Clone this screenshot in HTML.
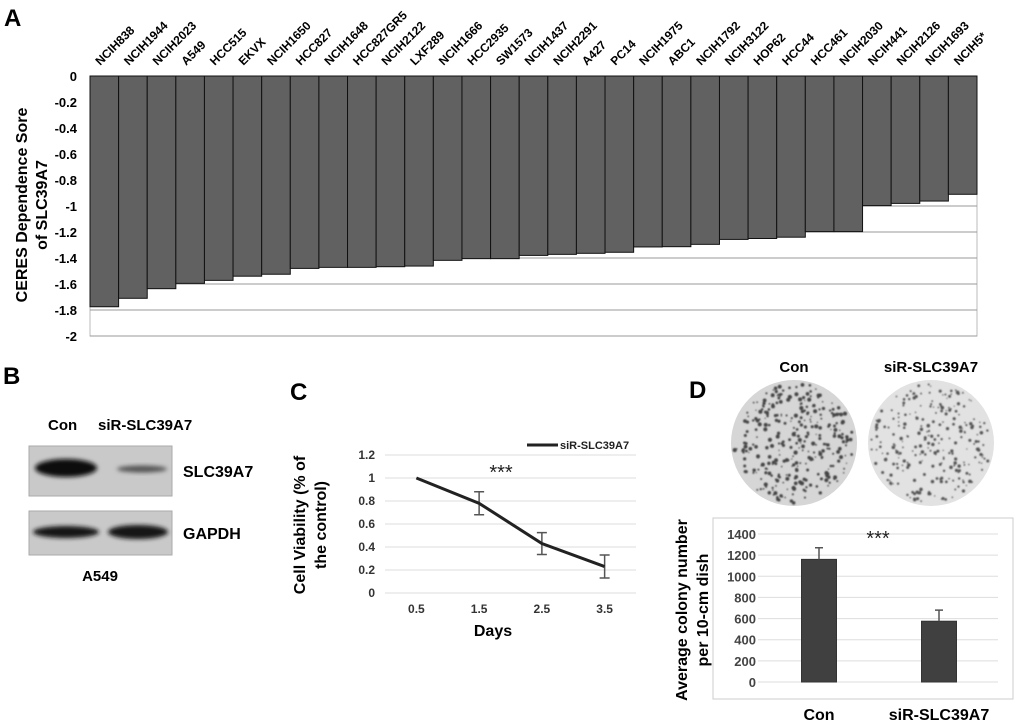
<!DOCTYPE html>
<html><head><meta charset="utf-8"><style>
body{margin:0;background:#fff;}
svg{display:block;font-family:"Liberation Sans",Arial,sans-serif;}
</style></head><body>
<svg id="fig" width="1020" height="724" viewBox="0 0 1020 724">
<defs>
<filter id="blur1" x="-20%" y="-50%" width="140%" height="200%"><feGaussianBlur stdDeviation="2"/></filter>
<filter id="blur2"><feGaussianBlur stdDeviation="0.7"/></filter>
</defs>
<g id="panelA">
<text x="4" y="26" font-size="24" font-weight="bold">A</text>
<g transform="translate(27,205) rotate(-90)">
<text x="0" y="0" text-anchor="middle" font-size="16" font-weight="bold">CERES Dependence Sore</text>
<text x="0" y="20" text-anchor="middle" font-size="16" font-weight="bold">of SLC39A7</text>
</g>
<rect x="90" y="76" width="887" height="260" fill="#fff" stroke="#bbb"/>
<g id="gridA"></g><g id="barsA"></g><g id="ticksA"></g><g id="labelsA"></g>
</g>
<g id="panelB">
<text x="3" y="384" font-size="24" font-weight="bold">B</text>
<text x="48" y="430" font-size="15" font-weight="bold">Con</text>
<text x="98" y="430" font-size="15" font-weight="bold">siR-SLC39A7</text>
<rect x="29" y="446" width="143" height="50" fill="#c9c9c9" stroke="#aaa"/>
<ellipse cx="66" cy="468" rx="31" ry="9" fill="#111" filter="url(#blur1)"/>
<ellipse cx="142" cy="469" rx="25" ry="3.5" fill="#555" filter="url(#blur1)"/>
<rect x="29" y="511" width="143" height="44" fill="#c9c9c9" stroke="#aaa"/>
<ellipse cx="66" cy="532" rx="33" ry="6" fill="#151515" filter="url(#blur1)"/>
<ellipse cx="138" cy="532" rx="30" ry="7" fill="#151515" filter="url(#blur1)"/>
<text x="183" y="477" font-size="16" font-weight="bold">SLC39A7</text>
<text x="183" y="539" font-size="16" font-weight="bold">GAPDH</text>
<text x="100" y="581" font-size="15" font-weight="bold" text-anchor="middle">A549</text>
</g>
<g id="panelC">
<text x="290" y="400" font-size="24" font-weight="bold">C</text>
<g transform="translate(305,525) rotate(-90)">
<text x="0" y="0" text-anchor="middle" font-size="16" font-weight="bold">Cell Viability (% of</text>
<text x="0" y="21" text-anchor="middle" font-size="16" font-weight="bold">the control)</text>
</g>
<g id="gridC"></g><g id="lineC"></g>
<line x1="527" y1="445" x2="558" y2="445" stroke="#222" stroke-width="3"/>
<text x="560" y="449" font-size="11" font-weight="bold" fill="#222">siR-SLC39A7</text>
<text x="501" y="479" font-size="20" text-anchor="middle" fill="#222">***</text>
<text x="493" y="636" font-size="16" font-weight="bold" text-anchor="middle">Days</text>
</g>
<g id="panelD">
<text x="689" y="398" font-size="24" font-weight="bold">D</text>
<text x="794" y="372" font-size="15" font-weight="bold" text-anchor="middle">Con</text>
<text x="931" y="372" font-size="15" font-weight="bold" text-anchor="middle">siR-SLC39A7</text>
<circle cx="794" cy="443" r="63" fill="#d6d6d6"/>
<circle cx="931" cy="443" r="63" fill="#e2e2e2"/>
<g id="dots" filter="url(#blur2)"></g>
<rect x="713" y="518" width="300" height="181" fill="#fff" stroke="#ccc"/>
<g transform="translate(687,610) rotate(-90)">
<text x="0" y="0" text-anchor="middle" font-size="16" font-weight="bold">Average colony number</text>
<text x="0" y="21" text-anchor="middle" font-size="16" font-weight="bold">per 10-cm dish</text>
</g>
<g id="gridD"></g><g id="barsD"></g>
<text x="878" y="545" font-size="20" text-anchor="middle" fill="#222">***</text>
</g>
</svg>
<script>
const NS='http://www.w3.org/2000/svg';
function mk(tag,attrs,parent,txt){const e=document.createElementNS(NS,tag);for(const k in attrs)e.setAttribute(k,attrs[k]);if(txt!==undefined)e.textContent=txt;parent.appendChild(e);return e;}
// Panel A data
const cellLines=['NCIH838','NCIH1944','NCIH2023','A549','HCC515','EKVX','NCIH1650','HCC827','NCIH1648','HCC827GR5','NCIH2122','LXF289','NCIH1666','HCC2935','SW1573','NCIH1437','NCIH2291','A427','PC14','NCIH1975','ABC1','NCIH1792','NCIH3122','HOP62','HCC44','HCC461','NCIH2030','NCIH441','NCIH2126','NCIH1693','NCIH5*'];
const ceresScores=[-1.775,-1.71,-1.636,-1.595,-1.572,-1.54,-1.525,-1.48,-1.472,-1.472,-1.467,-1.462,-1.418,-1.405,-1.405,-1.38,-1.372,-1.364,-1.356,-1.315,-1.313,-1.295,-1.257,-1.25,-1.24,-1.197,-1.197,-0.997,-0.98,-0.962,-0.91];
const ticksA=[0,-0.2,-0.4,-0.6,-0.8,-1,-1.2,-1.4,-1.6,-1.8,-2];
// Panel C data
const days=['0.5','1.5','2.5','3.5'];
const viability=[1,0.78,0.43,0.23];
const viabilityErr=[0,0.1,0.095,0.1];
const ticksC=[0,0.2,0.4,0.6,0.8,1,1.2];
// Panel D data
const groups=['Con','siR-SLC39A7'];
const colonies=[1160,575];
const coloniesErr=[110,105];
const ticksD=[0,200,400,600,800,1000,1200,1400];

// Panel A
(function(){
 const x0=90,w=887,yTop=76,h=260,bw=w/cellLines.length;
 const y=v=>yTop+(-v/2)*h;
 const g=document.getElementById('gridA'),b=document.getElementById('barsA'),t=document.getElementById('ticksA'),l=document.getElementById('labelsA');
 ticksA.forEach(v=>{
  const ln=mk('line',{x1:x0,x2:x0+w,y1:y(v),y2:y(v),stroke:'#999','stroke-width':1},g);
  
  
  const tx=mk('text',{x:77,y:y(v)+5,'text-anchor':'end','font-size':13,'font-weight':'bold'},t,String(v));
  
  
 });
 cellLines.forEach((c,i)=>{
  const r=mk('rect',{x:x0+i*bw,y:y(0),width:bw,height:y(ceresScores[i])-y(0),fill:'#616161',stroke:'#111','stroke-width':1},b);
  
  
  const cx=x0+(i+0.5)*bw;
  const tx=mk('text',{x:cx-4,y:66,'font-size':12,'font-weight':'bold',transform:`rotate(-45 ${cx-4} 66)`},l,c);
  
  
 });
})();
// Panel C
(function(){
 const x0=385,w=251,y0=593,h=138;
 const y=v=>y0-v/1.2*h;
 const x=i=>x0+(i+0.5)*w/days.length;
 const g=document.getElementById('gridC'),L=document.getElementById('lineC');
 ticksC.forEach(v=>{
  const ln=mk('line',{x1:x0,x2:x0+w,y1:y(v),y2:y(v),stroke:'#ddd'},g);
  
  
  const tx=mk('text',{x:375,y:y(v)+4,'text-anchor':'end','font-size':12,'font-weight':'bold',fill:'#333'},g,String(v));
  
  
 });
 days.forEach((d,i)=>{
  const tx=mk('text',{x:x(i),y:613,'text-anchor':'middle','font-size':12,'font-weight':'bold',fill:'#333'},g,d);
  
  
  if(viabilityErr[i]>0){
   const e=mk('path',{d:`M${x(i)} ${y(viability[i]+viabilityErr[i])}V${y(viability[i]-viabilityErr[i])}M${x(i)-5} ${y(viability[i]+viabilityErr[i])}h10M${x(i)-5} ${y(viability[i]-viabilityErr[i])}h10`,stroke:'#555','stroke-width':1.5,fill:'none'},L);
   
   
  }
 });
 const p=mk('polyline',{points:viability.map((v,i)=>x(i)+','+y(v)).join(' '),fill:'none',stroke:'#222','stroke-width':3},L);
 
 
})();
// Panel D
(function(){
 const x0=758,w=240,y0=682,h=148;
 const y=v=>y0-v/1400*h;
 const g=document.getElementById('gridD'),B=document.getElementById('barsD');
 ticksD.forEach(v=>{
  const ln=mk('line',{x1:x0,x2:x0+w,y1:y(v),y2:y(v),stroke:'#ddd'},g);
  
  
  const tx=mk('text',{x:756,y:y(v)+5,'text-anchor':'end','font-size':13,'font-weight':'bold',fill:'#444'},g,String(v));
  
  
 });
 const bw=35;
 groups.forEach((gname,i)=>{
  const cx=x0+(i+0.5)*w/groups.length+1;
  const r=mk('rect',{x:cx-bw/2,y:y(colonies[i]),width:bw,height:y(0)-y(colonies[i]),fill:'#404040',stroke:'#333'},B);
  
  
  const e=mk('path',{d:`M${cx} ${y(colonies[i])}V${y(colonies[i]+coloniesErr[i])}M${cx-4} ${y(colonies[i]+coloniesErr[i])}h8`,stroke:'#555','stroke-width':1.5,fill:'none'},B);
  
  
  const tx=mk('text',{x:cx,y:720,'text-anchor':'middle','font-size':16,'font-weight':'bold'},B,gname);
  
  
 });
})();
// Dish colony dots (decorative texture)
(function(){
 const g=document.getElementById('dots');let s=12345;
 const rnd=()=>{s=(s*1103515245+12345)%2147483648;return s/2147483648;};
 [[794,330,'#444',1.5],[931,260,'#555',1.2]].forEach(([cx,n,col,rs])=>{
  for(let k=0;k<n;k++){const a=rnd()*Math.PI*2,r=Math.sqrt(rnd())*60;
   mk('circle',{cx:cx+r*Math.cos(a),cy:443+r*Math.sin(a),r:0.6+rnd()*rs,fill:col},g);}
 });
})();
</script>
</body></html>
